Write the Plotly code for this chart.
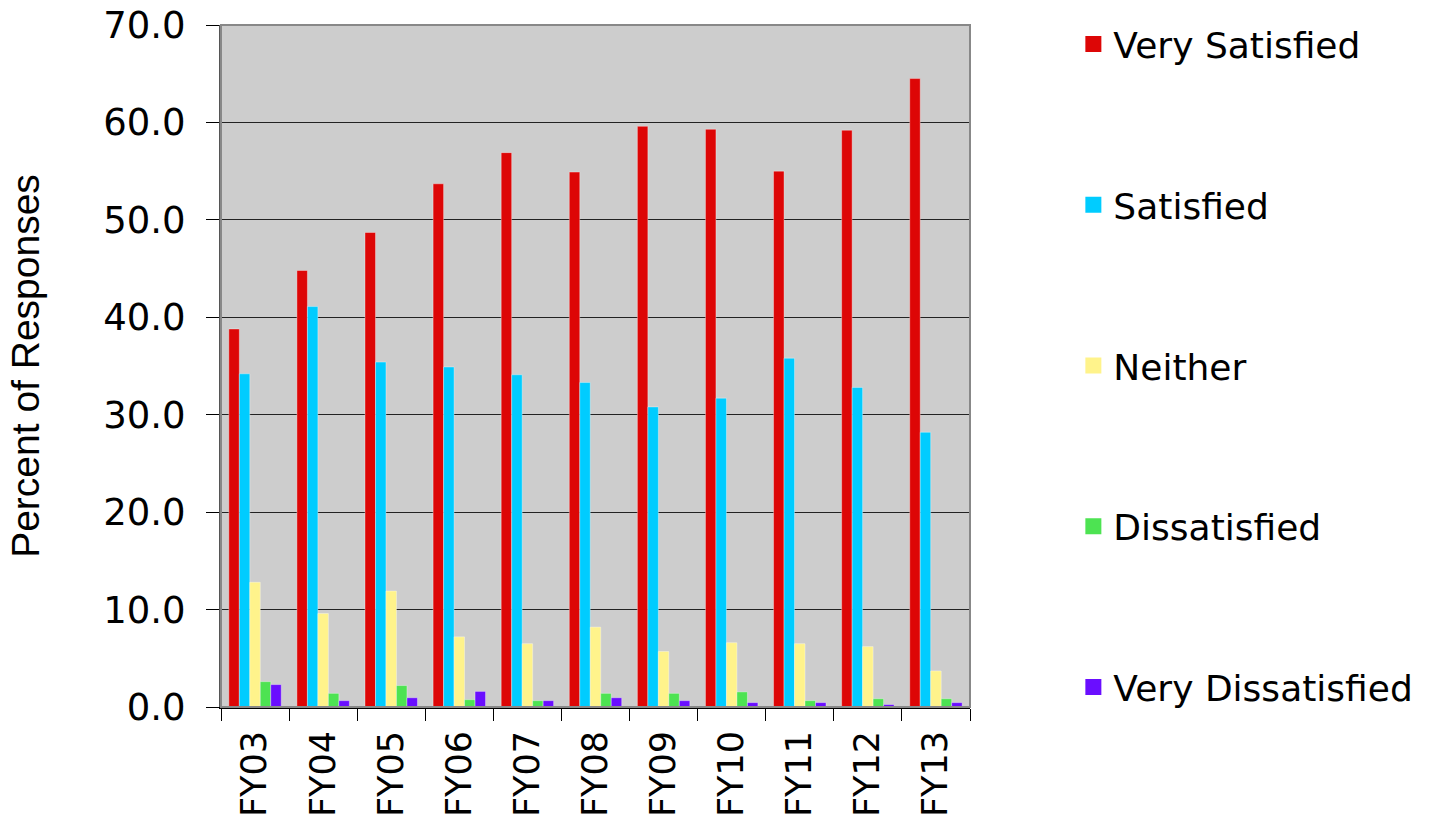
import plotly.graph_objects as go

categories = ["FY03", "FY04", "FY05", "FY06", "FY07", "FY08", "FY09", "FY10", "FY11", "FY12", "FY13"]
very_satisfied = [38.8, 44.8, 48.7, 53.7, 56.9, 54.9, 59.6, 59.3, 55.0, 59.2, 64.5]
satisfied = [34.2, 41.1, 35.4, 34.9, 34.1, 33.3, 30.8, 31.7, 35.8, 32.8, 28.2]
neither = [12.8, 9.6, 11.9, 7.2, 6.5, 8.2, 5.7, 6.6, 6.5, 6.2, 3.7]
dissatisfied = [2.6, 1.4, 2.2, 0.75, 0.65, 1.4, 1.4, 1.55, 0.65, 0.85, 0.85]
very_dissatisfied = [2.3, 0.65, 0.95, 1.6, 0.65, 0.95, 0.65, 0.45, 0.45, 0.25, 0.45]
y_ticks = [0, 10, 20, 30, 40, 50, 60, 70]

series = [
    ("Very Satisfied", very_satisfied, "#DD0606"),
    ("Satisfied", satisfied, "#00CCFF"),
    ("Neither", neither, "#FFF38B"),
    ("Dissatisfied", dissatisfied, "#4DE352"),
    ("Very Dissatisfied", very_dissatisfied, "#6A0EFF"),
]

FONT = "DejaVu Sans, Verdana, sans-serif"

fig = go.Figure()
for i, (name, vals, col) in enumerate(series):
    fig.add_trace(go.Bar(
        x=categories, y=vals, name=name, legendgroup=f"g{i}", showlegend=False,
        marker=dict(color=col, line=dict(color="rgba(255,255,255,0.35)", width=1)),
    ))
# legend entries (square swatches)
for i, (name, vals, col) in enumerate(series):
    fig.add_trace(go.Scatter(
        x=[None], y=[None], mode="markers", name=name, legendgroup=f"g{i}",
        marker=dict(symbol="square", size=16, color=col), hoverinfo="skip",
    ))

fig.update_layout(
    width=1432, height=825,
    margin=dict(l=221, r=462, t=25, b=118, pad=0, autoexpand=False),
    paper_bgcolor="white",
    plot_bgcolor="#CDCDCD",
    barmode="group", bargap=0.23, bargroupgap=0,
    font=dict(family=FONT, color="black", size=35),
    showlegend=True,
    legend=dict(
        x=1.138, xanchor="left", y=0.983, yanchor="top", yref="container",
        font=dict(size=36, family=FONT),
        tracegroupgap=111, bgcolor="rgba(0,0,0,0)",
        itemsizing="trace", maxheight=815,
    ),
    xaxis=dict(
        type="category", tickangle=-90, tickson="boundaries",
        ticks="outside", ticklen=12, tickcolor="black", tickwidth=1,
        showline=True, linecolor="black", linewidth=2, mirror=False,
        showgrid=False, tickfont=dict(size=35), automargin=False,
        ticklabelstandoff=8, ticklabeloverflow="allow",
    ),
    yaxis=dict(
        range=[0, 70], tickvals=y_ticks,
        tickformat=".1f", ticks="outside", ticklen=13, tickcolor="black",
        showline=True, linecolor="#555555", linewidth=2,
        showgrid=True, gridcolor="#222222", gridwidth=1,
        tickfont=dict(size=37), zeroline=False, automargin=False,
        ticklabelstandoff=13, ticklabeloverflow="allow",
        title=dict(text="Percent of Responses", standoff=52,
                   font=dict(family="Liberation Sans, Arial, sans-serif", size=39)),
    ),
)

fig.add_shape(type="rect", xref="paper", yref="paper", x0=0, y0=0, x1=1, y1=1,
              line=dict(color="#888888", width=2), fillcolor="rgba(0,0,0,0)", layer="above")

fig.write_html("out.html", config={"displayModeBar": False},
               post_script="document.body.style.margin='0';")
